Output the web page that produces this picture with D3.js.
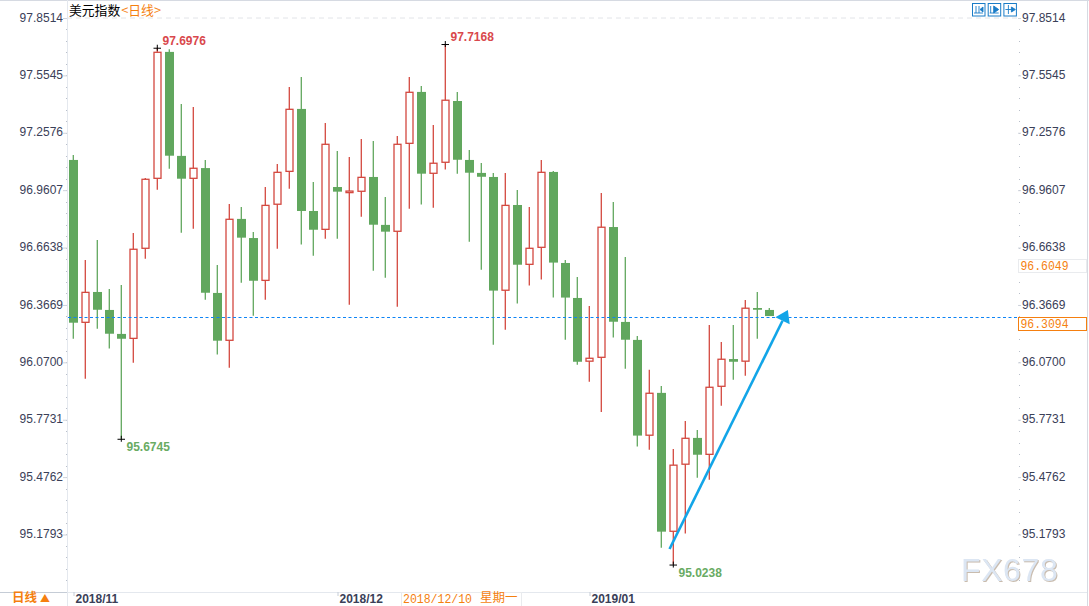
<!DOCTYPE html>
<html>
<head>
<meta charset="utf-8">
<style>
  html, body { margin: 0; padding: 0; background: #fff; overflow: hidden; }
  text { font-family: "Liberation Sans", Arial, sans-serif; }
</style>
<script src="https://cdn.jsdelivr.net/npm/d3@7"></script>
</head>
<body>
<div id="chart"></div>
<script>
const tradeDates = [
  '2018/11/01','2018/11/02','2018/11/05','2018/11/06','2018/11/07','2018/11/08','2018/11/09','2018/11/12',
  '2018/11/13','2018/11/14','2018/11/15','2018/11/16','2018/11/19','2018/11/20','2018/11/21','2018/11/22',
  '2018/11/23','2018/11/26','2018/11/27','2018/11/28','2018/11/29','2018/11/30','2018/12/03','2018/12/04',
  '2018/12/05','2018/12/06','2018/12/07','2018/12/10','2018/12/11','2018/12/12','2018/12/13','2018/12/14',
  '2018/12/17','2018/12/18','2018/12/19','2018/12/20','2018/12/21','2018/12/24','2018/12/25','2018/12/26',
  '2018/12/27','2018/12/28','2018/12/31','2019/01/01','2019/01/02','2019/01/03','2019/01/04','2019/01/07',
  '2019/01/08','2019/01/09','2019/01/10','2019/01/11','2019/01/14','2019/01/15','2019/01/16','2019/01/17',
  '2019/01/18','2019/01/21','2019/01/22'
];

const opens = [
  97.117, 96.277, 96.434, 96.341, 96.217, 96.194, 96.660, 97.022, 97.676, 97.138,
  97.022, 97.075, 96.429, 96.184, 96.812, 96.713, 96.494, 96.888, 97.058, 97.381,
  96.853, 96.758, 96.977, 96.948, 96.955, 97.029, 96.781, 96.748, 97.203, 97.469,
  97.048, 97.105, 97.422, 97.117, 97.050, 97.029, 96.443, 96.884, 96.577, 96.665,
  97.055, 96.584, 96.403, 96.076, 96.096, 96.770, 96.279, 96.186, 95.693, 95.912,
  95.196, 95.543, 95.679, 95.594, 95.946, 96.087, 96.076, 96.351, 96.341
];
const closes = [
  96.275, 96.432, 96.342, 96.218, 96.192, 96.655, 97.017, 97.674, 97.139, 97.020,
  97.074, 96.430, 96.182, 96.810, 96.715, 96.492, 96.882, 97.053, 97.379, 96.853,
  96.756, 97.198, 96.953, 96.956, 97.027, 96.782, 96.746, 97.198, 97.467, 97.046,
  97.100, 97.426, 97.118, 97.051, 97.030, 96.441, 96.882, 96.575, 96.660, 97.053,
  96.586, 96.405, 96.073, 96.091, 96.769, 96.280, 96.187, 95.691, 95.910, 95.194,
  95.538, 95.677, 95.592, 95.941, 96.086, 96.073, 96.350, 96.342, 96.3094
];
const highs = [
  97.143, 96.600, 96.703, 96.450, 96.470, 96.739, 97.024, 97.6976, 97.690, 97.407,
  97.391, 97.117, 96.574, 96.889, 96.874, 96.744, 96.977, 97.096, 97.494, 97.546,
  97.003, 97.308, 97.163, 97.132, 97.225, 97.215, 96.925, 97.241, 97.546, 97.500,
  97.298, 97.7168, 97.469, 97.169, 97.101, 97.050, 97.050, 96.962, 96.874, 97.117,
  97.060, 96.600, 96.512, 96.362, 96.946, 96.900, 96.615, 96.206, 96.031, 95.948,
  95.622, 95.767, 95.720, 96.263, 96.175, 96.263, 96.393, 96.434, 96.351
];
const lows = [
  96.192, 95.985, 96.244, 96.141, 95.6745, 96.068, 96.606, 96.963, 97.072, 96.741,
  96.761, 96.394, 96.110, 96.042, 96.482, 96.311, 96.394, 96.658, 96.968, 96.679,
  96.622, 96.710, 96.710, 96.368, 96.823, 96.544, 96.508, 96.358, 96.865, 96.886,
  96.870, 97.067, 97.046, 96.694, 96.549, 96.161, 96.239, 96.374, 96.467, 96.498,
  96.405, 96.187, 96.058, 95.970, 95.813, 96.198, 96.037, 95.634, 95.618, 95.111,
  95.0238, 95.184, 95.473, 95.463, 95.846, 95.980, 96.001, 96.192, 96.3094
];

const priceTicks = [97.8514, 97.5545, 97.2576, 96.9607, 96.6638, 96.3669, 96.0700, 95.7731, 95.4762, 95.1793];
const monthTicks = [0, 22, 43];
const monthLabels = ['2018/11', '2018/12', '2019/01'];
const highMarks = [7, 31];
const lowMarks = [4, 50];
const priceTags = [96.6049, 96.3094];
const lastPrice = 96.3094;
const hoverIndex = 27;
const hoverWeekday = '星期一';
const arrowIndex = [49.67, 59.53];
const arrowPrice = [95.1044, 96.3408];

const W = 1089, H = 606;
const RED = '#d3483f', GREEN = '#61a75e', ORANGE = '#f57f0f', AXIS = '#e4e8ee', INK = '#3a4058';
const CJK = '"Noto Sans CJK SC", sans-serif';
const MONO = '"Liberation Mono", "DejaVu Sans Mono", monospace';

const svg = d3.select('#chart').append('svg')
  .attr('width', W).attr('height', H)
  .style('display', 'block');

const x = d3.scaleLinear().domain([0, 58]).range([73.5, 769.5]);
const y = d3.scaleLinear().domain([97.8514, 95.1793]).range([18, 534.5]);

// frame
const frame = svg.append('g').attr('fill', 'none');
frame.append('line').attr('x1', 0).attr('x2', W).attr('y1', 0.5).attr('y2', 0.5).attr('stroke', '#d6dae2');
frame.append('line').attr('x1', 67.5).attr('x2', 67.5).attr('y1', 0).attr('y2', H).attr('stroke', AXIS);
frame.append('line').attr('x1', 1087.5).attr('x2', 1087.5).attr('y1', 0).attr('y2', H).attr('stroke', '#d6dae2');
frame.append('line').attr('x1', 67).attr('x2', 1087).attr('y1', 592.5).attr('y2', 592.5).attr('stroke', AXIS);
frame.append('line').attr('x1', 0).attr('x2', 67).attr('y1', 592.5).attr('y2', 592.5).attr('stroke', '#c5ccd6');
frame.append('line').attr('x1', 67).attr('x2', 1019).attr('y1', y(priceTicks[0])).attr('y2', y(priceTicks[0]))
  .attr('stroke', '#e2e4e8').attr('stroke-dasharray', '5,4');

// minor axis dots, five per major step
const minorStep = (priceTicks[0] - priceTicks[1]) / 5;
const minorTicks = d3.range(0, 50)
  .map(i => priceTicks[0] - i * minorStep)
  .filter(v => y(v) < 585);
[66, 1019].forEach(px => {
  svg.append('g').selectAll('rect').data(minorTicks).enter().append('rect')
    .attr('x', px).attr('y', d => Math.round(y(d))).attr('width', 1).attr('height', 1)
    .attr('fill', '#b9bfca');
});

// price axes
const styleAxis = g => {
  g.select('.domain').remove();
  g.selectAll('line').attr('stroke', '#cfd4dc');
  g.selectAll('text').attr('fill', INK).attr('font-size', 12).attr('y', -0.7)
    .attr('font-family', '"Liberation Sans", Arial, sans-serif');
};
svg.append('g').attr('transform', 'translate(67,0)')
  .call(d3.axisLeft(y).tickValues(priceTicks).tickFormat(d3.format('.4f')).tickSize(4).tickPadding(0))
  .call(styleAxis);
svg.append('g').attr('transform', 'translate(1018,0)')
  .call(d3.axisRight(y).tickValues(priceTicks).tickFormat(d3.format('.4f')).tickSize(3).tickPadding(1))
  .call(styleAxis);

// month axis
const monthAxis = svg.append('g').attr('transform', 'translate(0,592)')
  .call(d3.axisBottom(x).tickValues(monthTicks).tickFormat((d, i) => monthLabels[i]).tickSize(4));
monthAxis.select('.domain').remove();
monthAxis.selectAll('line').attr('stroke', '#c5ccd6');
monthAxis.selectAll('text')
  .attr('text-anchor', 'start').attr('x', 1.5).attr('y', 11.4).attr('dy', 0)
  .attr('fill', INK).attr('font-size', 12).attr('font-weight', 'bold')
  .attr('font-family', '"Liberation Sans", Arial, sans-serif');

// candles
const candles = tradeDates.map((date, i) => ({
  date, i, open: opens[i], close: closes[i], high: highs[i], low: lows[i],
  up: closes[i] > opens[i]
}));

svg.append('g').selectAll('line').data(candles).enter().append('line')
  .attr('x1', d => x(d.i) - 0.2).attr('x2', d => x(d.i) - 0.2)
  .attr('y1', d => y(d.high)).attr('y2', d => y(d.low))
  .attr('stroke', d => d.up ? RED : GREEN)
  .attr('stroke-width', 1.3);

svg.append('g').selectAll('rect').data(candles).enter().append('rect')
  .attr('x', d => d.up ? x(d.i) - 3.5 : x(d.i) - 4.5)
  .attr('width', d => d.up ? 7 : 9)
  .attr('y', d => y(Math.max(d.open, d.close)))
  .attr('height', d => Math.abs(y(d.open) - y(d.close)))
  .attr('fill', d => d.up ? '#fff' : GREEN)
  .attr('stroke', d => d.up ? RED : 'none')
  .attr('stroke-width', 1.3);

// last price line
svg.append('line')
  .attr('x1', 68).attr('x2', 1018)
  .attr('y1', Math.round(y(lastPrice)) + 1.5).attr('y2', Math.round(y(lastPrice)) + 1.5)
  .attr('stroke', '#0f84f5').attr('stroke-dasharray', '3,2.5');

// extreme markers
const extremes = [
  ...highMarks.map(i => ({ i, v: highs[i], color: '#d9484c', dy: -3 })),
  ...lowMarks.map(i => ({ i, v: lows[i], color: '#69ab63', dy: 12 }))
];
const mark = svg.append('g').selectAll('g').data(extremes).enter().append('g')
  .attr('transform', d => `translate(${x(d.i)},${y(d.v)})`);
mark.append('path').attr('d', 'M-4,0.5H3.5M-0.2,-3V3').attr('stroke', '#000').attr('fill', 'none');
mark.append('text')
  .attr('x', 5).attr('y', d => d.dy)
  .attr('fill', d => d.color).attr('font-size', 12).attr('font-weight', 'bold')
  .text(d => d.v.toFixed(4));

// arrow annotation
const ax0 = x(arrowIndex[0]), ay0 = y(arrowPrice[0]), ax1 = x(arrowIndex[1]), ay1 = y(arrowPrice[1]);
const len = Math.hypot(ax1 - ax0, ay1 - ay0);
const ux = (ax1 - ax0) / len, uy = (ay1 - ay0) / len;
const bx = ax1 - ux * 12, by = ay1 - uy * 12;
svg.append('line')
  .attr('x1', ax0).attr('y1', ay0).attr('x2', bx).attr('y2', by)
  .attr('stroke', '#12a5e8').attr('stroke-width', 2.6);
svg.append('path')
  .attr('d', d3.line()([[ax1, ay1], [bx - uy * 8, by + ux * 8], [bx + uy * 8, by - ux * 8]]) + 'Z')
  .attr('fill', '#12a5e8');

// price tags
const tags = svg.append('g').selectAll('g').data(priceTags).enter().append('g')
  .attr('transform', (d, i) => `translate(1018,${Math.round(y(d)) + (i ? 1 : 0)})`);
tags.append('rect')
  .attr('x', 0.5).attr('y', 0.5).attr('width', 68).attr('height', 13)
  .attr('fill', '#fff').attr('stroke', (d, i) => i ? ORANGE : '#e9ebee');
tags.append('text')
  .attr('x', 2.5).attr('y', 11)
  .attr('fill', ORANGE).attr('font-size', 12.5).style('font-family', MONO)
  .attr('textLength', 48).attr('lengthAdjust', 'spacingAndGlyphs')
  .text(d => d.toFixed(4));

// hover date box
const hover = svg.append('g').attr('transform', 'translate(401,592)');
hover.append('rect').attr('x', 0.5).attr('y', 0.5).attr('width', 120).attr('height', 16)
  .attr('fill', '#fff').attr('stroke', '#e9ebee');
hover.append('text').attr('x', 2).attr('y', 11).attr('fill', ORANGE).attr('font-size', 12.5)
  .attr('textLength', 69).attr('lengthAdjust', 'spacingAndGlyphs')
  .style('font-family', MONO).text(tradeDates[hoverIndex]);
hover.append('text').attr('x', 79).attr('y', 10.4).attr('fill', ORANGE).attr('font-size', 12.5)
  .style('font-family', CJK).text(hoverWeekday);

// title, baseline low enough that the CJK font box stays inside the page
const title = svg.append('text').attr('x', 69).attr('y', 15).attr('font-size', 12.8).style('font-family', CJK);
title.append('tspan').attr('fill', '#000').text('美元指数');
title.append('tspan').attr('fill', ORANGE).attr('dx', 1).text('<日线>');

// bottom-left period switch
const period = svg.append('text').attr('x', 12).attr('y', 602.4).attr('font-size', 12.5).attr('font-weight', 'bold')
  .attr('fill', ORANGE).style('font-family', CJK);
period.append('tspan').text('日线');
period.append('tspan').attr('dx', 3).attr('font-size', 10).text('▲');

// toolbar icons
const icons = [
  'M4,3V10M2,10H11M7,3V10M11,4L8,6.5L11,9Z',
  'M3,3V10M2,10H11M6,3L11,6.5L6,10Z',
  'M5,2V11M2,6.5H9M8,4L12,6.5L8,9Z'
];
const toolbar = svg.append('g').selectAll('g').data(icons).enter().append('g')
  .attr('transform', (d, i) => `translate(${972 + i * 15.7},3)`);
toolbar.append('rect').attr('x', 0.5).attr('y', 0.5).attr('width', 12.5).attr('height', 12.5)
  .attr('fill', '#fff').attr('stroke', '#1a7cc7');
toolbar.append('path').attr('d', d => d).attr('stroke', '#1a7cc7').attr('fill', '#1a7cc7').attr('stroke-width', 0.9);

// watermark
svg.append('text')
  .attr('x', 961).attr('y', 581)
  .attr('font-size', 32).attr('letter-spacing', 0.6)
  .attr('fill', '#dce6f3')
  .attr('style', 'filter: drop-shadow(1px 1px 0.5px #c9bcae)')
  .text('FX678');
</script>
</body>
</html>
